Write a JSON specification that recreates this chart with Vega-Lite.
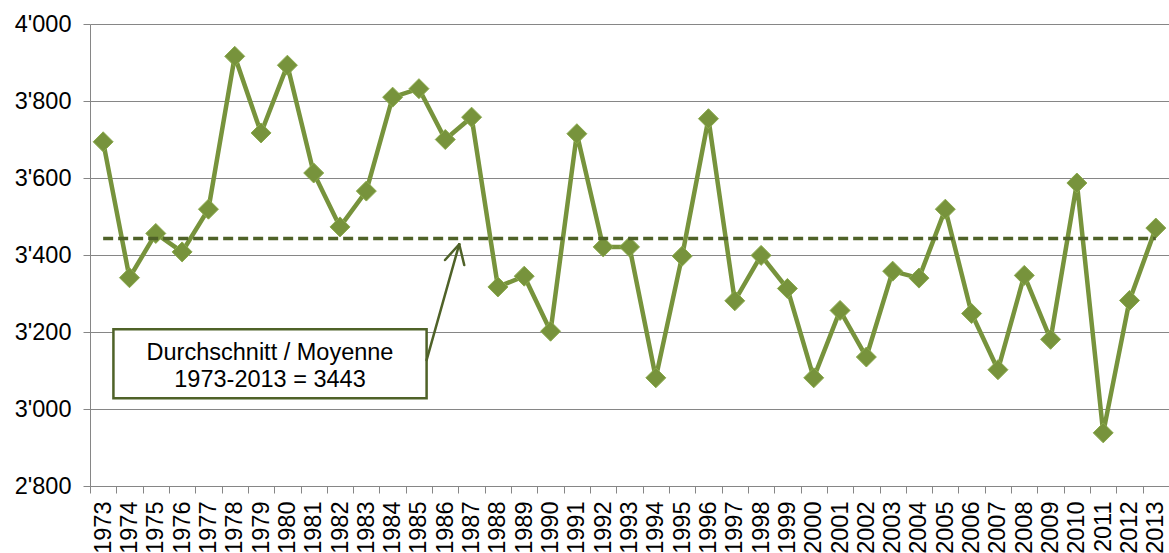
{
  "$schema": "https://vega.github.io/schema/vega-lite/v6.json",
  "width": 1079,
  "height": 462,
  "autosize": {"type": "none"},
  "padding": {"left": 90, "top": 24, "right": 0, "bottom": 67},
  "background": "white",
  "config": {
    "font": "Liberation Sans",
    "view": {"stroke": null},
    "axis": {"labelFont": "Liberation Sans", "labelColor": "#000000", "labelFontSize": 23.5, "domainColor": "#868686", "tickColor": "#868686", "gridColor": "#868686", "domainWidth": 1, "tickWidth": 1, "gridWidth": 1, "tickSize": 7}
  },
  "datasets": {
    "snow": [
      {"year": 1973, "value": 3694}, {"year": 1974, "value": 3341}, {"year": 1975, "value": 3456},
      {"year": 1976, "value": 3408}, {"year": 1977, "value": 3519}, {"year": 1978, "value": 3916},
      {"year": 1979, "value": 3717}, {"year": 1980, "value": 3893}, {"year": 1981, "value": 3613},
      {"year": 1982, "value": 3473}, {"year": 1983, "value": 3566}, {"year": 1984, "value": 3810},
      {"year": 1985, "value": 3832}, {"year": 1986, "value": 3700}, {"year": 1987, "value": 3758},
      {"year": 1988, "value": 3317}, {"year": 1989, "value": 3345}, {"year": 1990, "value": 3202},
      {"year": 1991, "value": 3715}, {"year": 1992, "value": 3421}, {"year": 1993, "value": 3421},
      {"year": 1994, "value": 3081}, {"year": 1995, "value": 3397}, {"year": 1996, "value": 3754},
      {"year": 1997, "value": 3281}, {"year": 1998, "value": 3399}, {"year": 1999, "value": 3313},
      {"year": 2000, "value": 3081}, {"year": 2001, "value": 3256}, {"year": 2002, "value": 3135},
      {"year": 2003, "value": 3358}, {"year": 2004, "value": 3340}, {"year": 2005, "value": 3519},
      {"year": 2006, "value": 3248}, {"year": 2007, "value": 3102}, {"year": 2008, "value": 3347},
      {"year": 2009, "value": 3181}, {"year": 2010, "value": 3587}, {"year": 2011, "value": 2938},
      {"year": 2012, "value": 3282}, {"year": 2013, "value": 3470}
    ],
    "mean": [
      {"year": 1973, "value": 3443}, {"year": 2013, "value": 3443}
    ],
    "box": [
      {"x1": 1973.39, "x2": 1985.29, "y1": 3028, "y2": 3207}
    ],
    "labels": [
      {"x": 1979.34, "y": 3128, "label": "Durchschnitt / Moyenne"},
      {"x": 1979.34, "y": 3057, "label": "1973-2013 = 3443"}
    ],
    "arrow": [
      {"x1": 1985.29, "y1": 3127, "x2": 1986.53, "y2": 3428},
      {"x1": 1985.99, "y1": 3387, "x2": 1986.53, "y2": 3428},
      {"x1": 1986.72, "y1": 3374, "x2": 1986.53, "y2": 3428}
    ]
  },
  "layer": [
    {
      "encoding": {
        "x": {
          "field": "year", "type": "ordinal",
          "scale": {"type": "band", "paddingInner": 0, "paddingOuter": 0,
            "domain": [1973,1974,1975,1976,1977,1978,1979,1980,1981,1982,1983,1984,1985,1986,1987,1988,1989,1990,1991,1992,1993,1994,1995,1996,1997,1998,1999,2000,2001,2002,2003,2004,2005,2006,2007,2008,2009,2010,2011,2012,2013]},
          "axis": {"title": null, "labelAngle": -90, "labelPadding": 8, "tickBand": "extent", "grid": false, "domain": true, "ticks": true}
        },
        "y": {
          "field": "value", "type": "quantitative",
          "scale": {"domain": [2800, 4000], "nice": false, "zero": false},
          "axis": {"title": null, "values": [2800, 3000, 3200, 3400, 3600, 3800, 4000], "grid": true, "domain": true, "ticks": true, "labelPadding": 12, "labelExpr": "replace(format(datum.value, ','), ',', \"'\")"}
        }
      },
      "layer": [
        {"data": {"name": "snow"}, "mark": {"type": "line", "color": "#77933C", "strokeWidth": 4.5}},
        {"data": {"name": "snow"}, "mark": {"type": "point", "shape": "diamond", "size": 400, "filled": true, "fill": "#77933C", "stroke": "#8AAA4C", "strokeWidth": 1, "opacity": 1}},
        {"data": {"name": "mean"}, "mark": {"type": "line", "color": "#4F6228", "strokeWidth": 3.5, "strokeDash": [10, 5]}}
      ]
    },
    {
      "layer": [
        {
          "data": {"name": "box"},
          "mark": {"type": "rect", "fill": "white", "stroke": "#4F6228", "strokeWidth": 2.5},
          "encoding": {
            "x": {"field": "x1", "type": "quantitative", "scale": {"domain": [1972.5, 2013.5], "nice": false, "zero": false}, "axis": null},
            "x2": {"field": "x2"},
            "y": {"field": "y1", "type": "quantitative", "title": null},
            "y2": {"field": "y2"}
          }
        },
        {
          "data": {"name": "labels"},
          "mark": {"type": "text", "fontSize": 23.5, "font": "Liberation Sans", "color": "#000000", "align": "center", "baseline": "alphabetic"},
          "encoding": {
            "x": {"field": "x", "type": "quantitative", "scale": {"domain": [1972.5, 2013.5], "nice": false, "zero": false}, "axis": null},
            "y": {"field": "y", "type": "quantitative", "title": null},
            "text": {"field": "label"}
          }
        },
        {
          "data": {"name": "arrow"},
          "mark": {"type": "rule", "color": "#4F6228", "strokeWidth": 2.5, "strokeCap": "round"},
          "encoding": {
            "x": {"field": "x1", "type": "quantitative", "scale": {"domain": [1972.5, 2013.5], "nice": false, "zero": false}, "axis": null},
            "x2": {"field": "x2"},
            "y": {"field": "y1", "type": "quantitative", "title": null},
            "y2": {"field": "y2"}
          }
        }
      ]
    }
  ],
  "resolve": {"scale": {"x": "independent"}}
}
